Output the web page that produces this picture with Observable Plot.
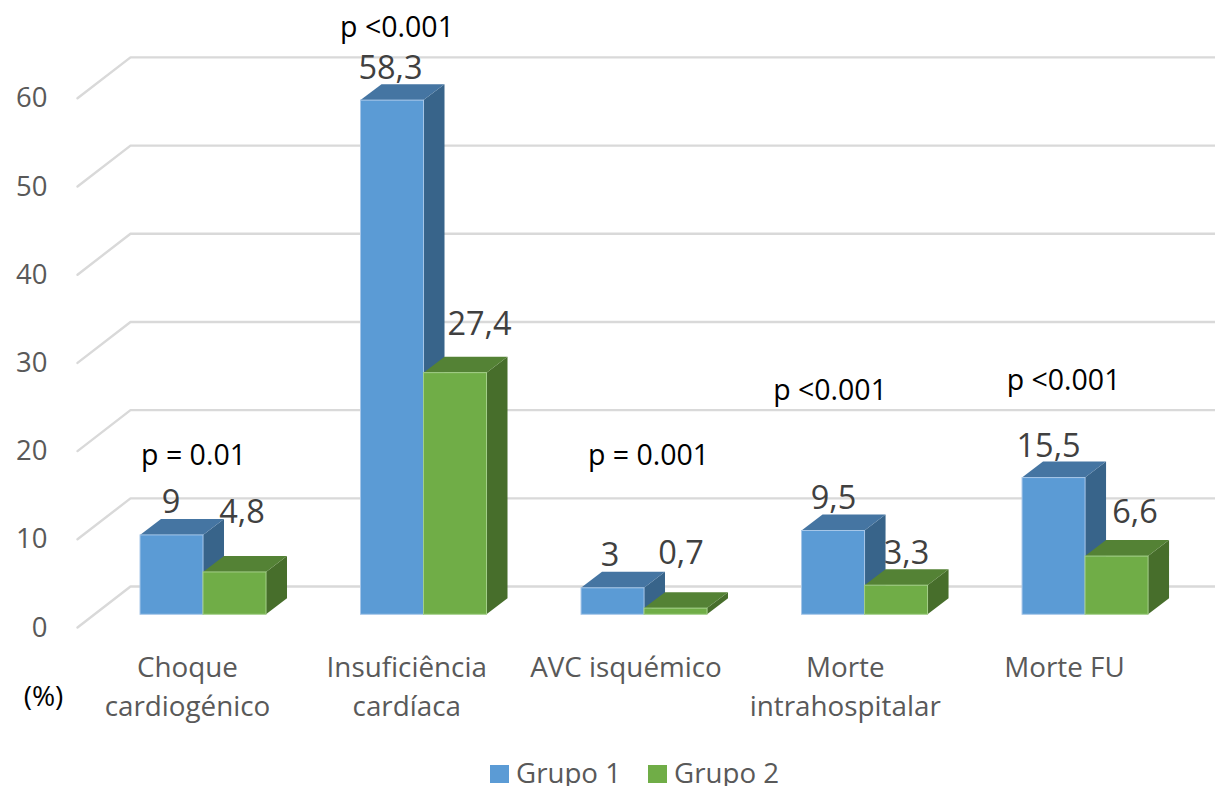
<!DOCTYPE html>
<html lang="pt">
<head>
<meta charset="utf-8">
<script src="https://cdn.jsdelivr.net/npm/d3@7"></script>
<script src="https://cdn.jsdelivr.net/npm/@observablehq/plot@0.6"></script>
<style>
html,body{margin:0;padding:0;background:#fff;overflow:hidden}
#chart svg{display:block}
#legend{height:31px;display:flex;justify-content:flex-start;align-items:flex-start;padding-left:490px;font:27.7px/28px "Open Sans",sans-serif;color:#595959;white-space:nowrap}
#legend i{display:inline-block;width:19px;height:18px;margin:10px 7px 0 0}
#legend span{margin:3px 27px 0 0}
</style>
</head>
<body>
<div id="chart"></div>
<div id="legend"><i style="background:#5b9bd5"></i><span>Grupo 1</span><i style="background:#70ad47"></i><span>Grupo 2</span></div>
<script>
const categories = ["Choque\ncardiogénico","Insuficiência\ncardíaca","AVC isquémico","Morte\nintrahospitalar","Morte FU"];
const grupo1 = [9, 58.3, 3, 9.5, 15.5];
const grupo2 = [4.8, 27.4, 0.7, 3.3, 6.6];
const label1 = ["9","58,3","3","9,5","15,5"];
const label2 = ["4,8","27,4","0,7","3,3","6,6"];
const pValues = ["p = 0.01","p <0.001","p = 0.001","p <0.001","p <0.001"];
const yTicks = [0,10,20,30,40,50,60];

// label placement (offset in px from the bar's front-top centre)
const offs1 = [[-1,-33],[-2,-32],[-3,-33],[0,-32],[-5.5,-31]];
const offs2 = [[7,-60],[24,-49],[5,-55],[10,-32],[18,-44]];
// p labels: offset in px from the group's base point
const pOffs = [[53,-159],[36,-587],[67,-159],[28,-224],[41,-234]];

const barW = 0.2857, depthX = 0.0952, depthY = 1.81;
const wallFrontX = -0.2857, wallBackX = -0.0454, wallEndX = 4.875, wallFrontY = -1.44, wallBackY = 3.2;
const catStart = 0.213, catStep = 0.9943;

const bars = [];
categories.forEach((c,i)=>{
  bars.push({x0:i, x1:i+barW, v:grupo1[i], s:0});
  bars.push({x0:i+barW, x1:i+2*barW, v:grupo2[i], s:1});
});
const front = ["#5b9bd5","#70ad47"], top_ = ["#4575a2","#548235"], side = ["#38648a","#476e2b"], edge=["#a6c6e8","#a3cf88"];

const grid = yTicks.flatMap(t=>[
  {t,x:wallFrontX,y:t+wallFrontY},
  {t,x:wallBackX,y:t+wallBackY},
  {t,x:wallEndX,y:t+wallBackY}]);

const font = '"Open Sans",sans-serif';
const barMarks = bars.flatMap(b=>[
  Plot.areaY([{x:b.x1,y1:0,y2:b.v},{x:b.x1+depthX,y1:depthY,y2:b.v+depthY}],{x:"x",y1:"y1",y2:"y2",fill:side[b.s]}),
  Plot.areaY([{x:b.x0,y1:b.v,y2:b.v},{x:b.x0+depthX,y1:b.v,y2:b.v+depthY},{x:b.x1,y1:b.v,y2:b.v+depthY},{x:b.x1+depthX,y1:b.v+depthY,y2:b.v+depthY}],{x:"x",y1:"y1",y2:"y2",fill:top_[b.s]}),
  Plot.rect([b],{x1:"x0",x2:"x1",y1:()=>0,y2:"v",fill:front[b.s],stroke:edge[b.s],strokeWidth:1})
]);

const valueLabels = categories.flatMap((c,i)=>[
  Plot.text([label1[i]],{x:[i+barW/2],y:[grupo1[i]],text:d=>d,dx:offs1[i][0],dy:offs1[i][1],fontSize:32.5,fill:"#404040",fontFamily:font}),
  Plot.text([label2[i]],{x:[i+1.5*barW],y:[grupo2[i]],text:d=>d,dx:offs2[i][0],dy:offs2[i][1],fontSize:32.5,fill:"#404040",fontFamily:font})
]);
const pLabels = categories.map((c,i)=>
  Plot.text([pValues[i]],{x:[i],y:[0],text:d=>d,dx:pOffs[i][0],dy:pOffs[i][1],fontSize:28.5,fill:"#000",fontFamily:font}));

const catTicks = categories.map((c,i)=>catStart+catStep*i);
const chart = Plot.plot({
  width:1215, height:755,
  marginLeft:50, marginRight:0, marginTop:0, marginBottom:105,
  style:{background:"#fff",overflow:"visible"},
  x:{type:"linear",domain:[-0.4082,4.875]},
  y:{type:"linear",domain:[-4.05,69.65]},
  marks:[
    Plot.line(grid,{x:"x",y:"y",z:"t",stroke:"#d9d9d9",strokeWidth:2.4,curve:"linear"}),
    Plot.axisY(yTicks,{anchor:"left",tickSize:0,tickPadding:3,dy:13,fontSize:27.5,fill:"#595959",fontFamily:font,label:null}),
    Plot.axisX(catTicks,{anchor:"bottom",tickSize:0,tickPadding:-1,lineHeight:1.39,fontSize:27.8,fill:"#595959",fontFamily:font,label:null,lineAnchor:"top",tickFormat:v=>categories[catTicks.indexOf(v)]}),
    ...valueLabels,
    ...barMarks,
    ...pLabels,
    Plot.text(["(%)"],{x:[-0.44],y:[-9.3],text:d=>d,fontSize:28,fill:"#000",fontFamily:font})
  ]
});
document.getElementById("chart").appendChild(chart);
</script>
</body>
</html>
